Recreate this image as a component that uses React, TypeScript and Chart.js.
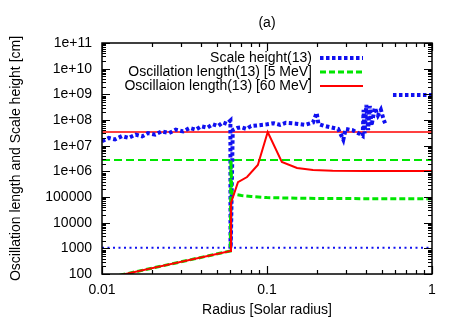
import React, { useEffect, useRef } from "react";
import { Chart, registerables } from "chart.js";
Chart.register(...registerables);

const FONT = "'Liberation Sans', Arial, Helvetica, sans-serif";

const xTickValues = [0.01, 0.1, 1];
const xTickLabels = ["0.01", "0.1", "1"];
const yTickValues = [1e2, 1e3, 1e4, 1e5, 1e6, 1e7, 1e8, 1e9, 1e10, 1e11];
const yTickLabels = ["100", "1000", "10000", "100000", "1e+06", "1e+07", "1e+08", "1e+09", "1e+10", "1e+11"];

const chartTitle = "(a)";
const xTitle = "Radius [Solar radius]";
const yTitle = "Oscillation length and Scale height [cm]";
const seriesNames = ["Scale height(13)", "Oscillation length(13) [5 MeV]", "Oscillaion length(13) [60 MeV]"];

// Scale height(13)
const scaleHeightR = [
  0.0100, 0.0110, 0.0120, 0.0132, 0.0145, 0.0160, 0.0175, 0.0190, 0.0210, 0.0230, 0.0255, 0.0280, 0.0310, 0.0340,
  0.0370, 0.0400, 0.0435, 0.0470, 0.0505, 0.0540, 0.0570, 0.0600,
  0.0601, 0.0603, 0.062, 0.066, 0.070, 0.075, 0.080, 0.090, 0.100, 0.110, 0.120, 0.130, 0.150, 0.170, 0.190, 0.200,
  0.205, 0.220, 0.250, 0.270, 0.290, 0.300, 0.330, 0.360, 0.380, 0.385, 0.390, 0.400, 0.410, 0.420, 0.430, 0.450,
  0.470, 0.490, 0.510, 0.520, 0.550, 0.580, 1.000,
];
const scaleHeightV = [
  1.5e7, 2.0e7, 1.75e7, 2.35e7, 2.0e7, 2.7e7, 2.3e7, 3.1e7, 2.7e7, 3.6e7, 3.1e7, 4.2e7, 3.6e7, 4.9e7,
  4.2e7, 5.7e7, 5.0e7, 6.8e7, 5.8e7, 8.0e7, 7.0e7, 9.5e7,
  1.05e3, 1.05e3, 4.0e7, 4.9e7, 5.2e7, 4.5e7, 5.8e7, 6.3e7, 6.8e7, 7.5e7, 6.5e7, 7.8e7, 7.2e7, 6.5e7, 8.0e7, 1.9e8,
  7.0e7, 6.0e7, 5.0e7, 4.5e7, 1.7e7, 4.5e7, 4.0e7, 3.0e7, 2.4e7, 2.5e8, 3.0e7, 3.9e8, 4.0e7, 3.5e8, 6.0e7, 3.0e8,
  1.5e8, 2.5e8, 1.0e8, 7.5e7, null, 9.5e8, 9.5e8,
];

// Oscillation length(13) [5 MeV]
const osc5R = [0.01, 0.0600, 0.0604, 0.0612, 0.065, 0.070, 0.080, 0.100, 0.150, 0.200, 0.400, 1.000];
const osc5V = [63, 790, 2.7e6, 1.4e5, 1.25e5, 1.15e5, 1.05e5, 9.5e4, 9.0e4, 8.8e4, 8.6e4, 8.5e4];

// Oscillaion length(13) [60 MeV]
const osc60R = [0.01, 0.0600, 0.0605, 0.0667, 0.0757, 0.088, 0.101, 0.123, 0.152, 0.190, 0.250, 0.400, 1.000];
const osc60V = [63, 790, 5.9e4, 3.8e5, 6.0e5, 1.77e6, 3.4e7, 2.3e6, 1.35e6, 1.12e6, 1.06e6, 1.04e6, 1.04e6];

// horizontal reference levels
const refR = [0.01, 1];
const refScaleHeightV = [1050, 1050];
const ref5V = [2.76e6, 2.76e6];
const ref60V = [3.4e7, 3.4e7];

const BLUE = "#1010f0";
const GREEN = "#00e600";
const RED = "#ff0000";

const pts = (r: number[], v: (number | null)[]) => r.map((x, i) => ({ x, y: v[i] }));

const decorPlugin = {
  id: "decor",
  afterDraw(chart: any) {
    const { ctx, chartArea: a, scales } = chart;
    const xs = scales.x;
    const ys = scales.y;
    ctx.save();
    ctx.strokeStyle = "#000";
    ctx.lineWidth = 1.2;
    for (let d = -2; d <= 0; d++) {
      for (let m = 1; m <= 9; m++) {
        const v = m * Math.pow(10, d);
        if (v > 1.0000001) continue;
        const px = Math.round(xs.getPixelForValue(v)) + 0.5;
        const len = m === 1 ? 8 : 4;
        ctx.beginPath();
        ctx.moveTo(px, a.bottom);
        ctx.lineTo(px, a.bottom - len);
        ctx.moveTo(px, a.top);
        ctx.lineTo(px, a.top + len);
        ctx.stroke();
      }
    }
    for (let d = 2; d <= 11; d++) {
      for (let m = 1; m <= 9; m++) {
        const v = m * Math.pow(10, d);
        if (v > 1.0000001e11) continue;
        const py = Math.round(ys.getPixelForValue(v)) + 0.5;
        const len = m === 1 ? 8 : 4;
        ctx.beginPath();
        ctx.moveTo(a.left, py);
        ctx.lineTo(a.left + len, py);
        ctx.moveTo(a.right, py);
        ctx.lineTo(a.right - len, py);
        ctx.stroke();
      }
    }
    ctx.lineWidth = 1.5;
    ctx.strokeRect(a.left, a.top, a.right - a.left, a.bottom - a.top);

    ctx.fillStyle = "#000";
    ctx.font = `14px ${FONT}`;
    ctx.textAlign = "center";
    ctx.textBaseline = "middle";
    ctx.fillText(chartTitle, (a.left + a.right) / 2, 23);

    const styles = [
      { color: BLUE, width: 4, dash: [3.5, 2.5] },
      { color: GREEN, width: 3, dash: [6, 3] },
      { color: RED, width: 2, dash: [] as number[] },
    ];
    seriesNames.forEach((name, i) => {
      const y = 58 + i * 14;
      ctx.fillStyle = "#000";
      ctx.textAlign = "right";
      ctx.fillText(name, 312, y);
      ctx.beginPath();
      ctx.strokeStyle = styles[i].color;
      ctx.lineWidth = styles[i].width;
      ctx.setLineDash(styles[i].dash);
      ctx.moveTo(320, y);
      ctx.lineTo(363, y);
      ctx.stroke();
      ctx.setLineDash([]);
    });
    ctx.restore();
  },
};

export default function App() {
  const ref = useRef<HTMLCanvasElement | null>(null);
  useEffect(() => {
    document.body.style.margin = "0";
    const canvas = ref.current;
    if (!canvas) return;
    const common = { pointRadius: 0, tension: 0, fill: false, borderCapStyle: "butt" as const };
    const chart = new Chart(canvas, {
      type: "line",
      data: {
        datasets: [
          { ...common, label: seriesNames[2], data: pts(osc60R, osc60V), borderColor: RED, borderWidth: 2, order: 0 },
          { ...common, label: seriesNames[1], data: pts(osc5R, osc5V), borderColor: GREEN, borderWidth: 3, borderDash: [6, 3], order: 1 },
          { ...common, label: seriesNames[0], data: pts(scaleHeightR, scaleHeightV), borderColor: BLUE, borderWidth: 4, borderDash: [3.5, 2.5], spanGaps: false, order: 2 },
          { ...common, label: "ref60", data: pts(refR, ref60V), borderColor: RED, borderWidth: 1.5, order: 3 },
          { ...common, label: "ref5", data: pts(refR, ref5V), borderColor: GREEN, borderWidth: 2, borderDash: [8, 4], order: 4 },
          { ...common, label: "refH", data: pts(refR, refScaleHeightV), borderColor: BLUE, borderWidth: 2, borderDash: [2, 3.5], order: 5 },
        ],
      },
      options: {
        animation: false,
        responsive: true,
        maintainAspectRatio: false,
        layout: { padding: { top: 43, right: 25, left: 0, bottom: 0 } },
        plugins: { legend: { display: false }, tooltip: { enabled: false }, title: { display: false } },
        scales: {
          x: {
            type: "logarithmic",
            min: 0.01,
            max: 1,
            afterFit: (s: any) => { s.height = 45; },
            afterBuildTicks: (s: any) => { s.ticks = xTickValues.map((v) => ({ value: v })); },
            ticks: {
              autoSkip: false,
              maxRotation: 0,
              padding: 8,
              color: "#000",
              font: { family: FONT, size: 14 },
              callback: (v: any) => { const i = xTickValues.findIndex((t) => Math.abs(t - v) / t < 1e-6); return i >= 0 ? xTickLabels[i] : ""; },
            },
            grid: { display: false, drawTicks: false },
            border: { display: false },
            title: { display: true, text: xTitle, color: "#000", font: { family: FONT, size: 14 }, padding: { top: 0, bottom: 0 } },
          },
          y: {
            type: "logarithmic",
            min: 100,
            max: 1e11,
            afterFit: (s: any) => { s.width = 102; },
            afterBuildTicks: (s: any) => { s.ticks = yTickValues.map((v) => ({ value: v })); },
            ticks: {
              autoSkip: false,
              padding: 10,
              color: "#000",
              font: { family: FONT, size: 14 },
              callback: (v: any) => { const i = yTickValues.findIndex((t) => Math.abs(t - v) / t < 1e-6); return i >= 0 ? yTickLabels[i] : ""; },
            },
            grid: { display: false, drawTicks: false },
            border: { display: false },
            title: { display: true, text: yTitle, color: "#000", font: { family: FONT, size: 14 }, padding: { top: 8, bottom: 0 } },
          },
        },
      },
      plugins: [decorPlugin],
    });
    return () => chart.destroy();
  }, []);
  return (
    <div style={{ width: 457, height: 319, position: "relative" }}>
      <canvas ref={ref} />
    </div>
  );
}
